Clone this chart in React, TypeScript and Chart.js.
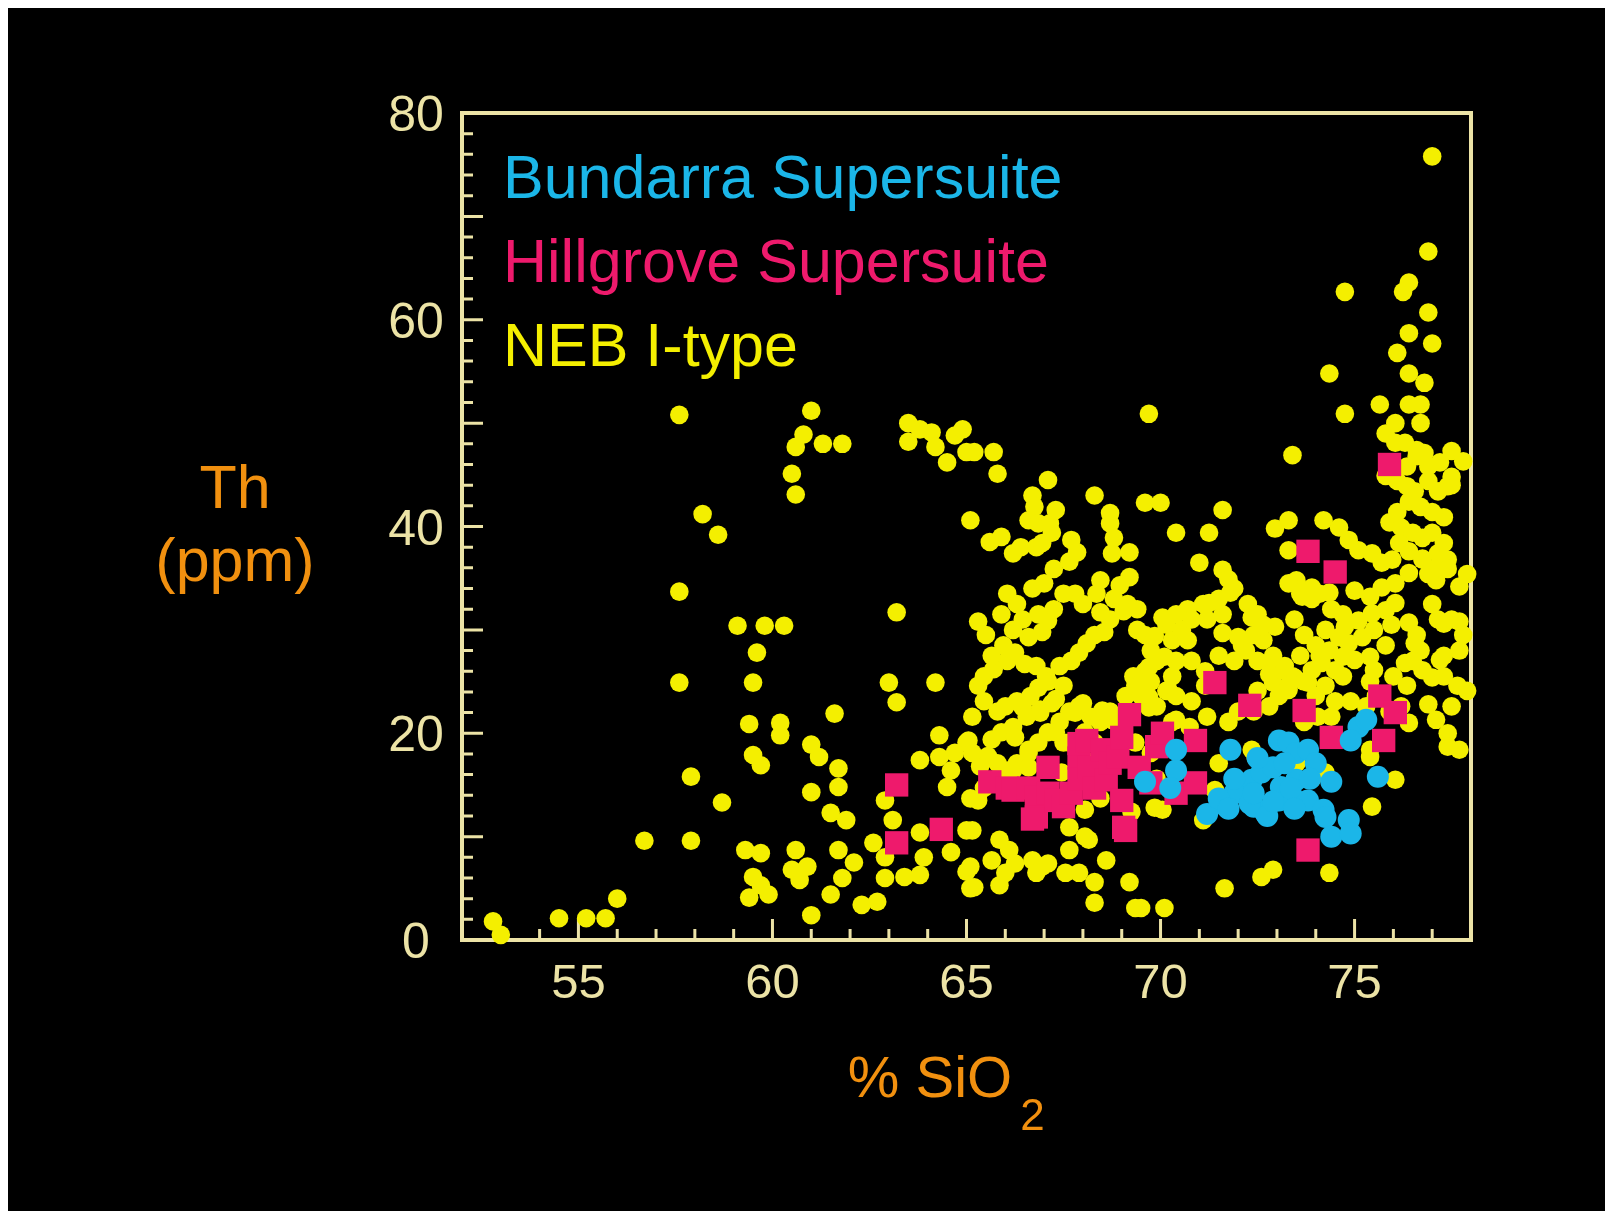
import React, { useEffect, useRef } from "react";
import { Chart, registerables } from "chart.js";

Chart.register(...registerables);

// Th (ppm) against % SiO2 for three granite groups of the New England Batholith.

const seriesNames = ["Bundarra Supersuite", "Hillgrove Supersuite", "NEB I-type"];

// [SiO2 %, Th ppm]
const bundarra: [number, number][] = [
  [69.6, 15.3], [70.4, 18.4], [70.4, 16.4], [70.25, 14.7], [71.8, 18.4], [71.7, 12.9], [71.6, 13.5],
  [72.0, 15.2], [72.35, 15.5], [72.6, 16.2], [72.9, 16.7], [73.05, 19.3], [73.3, 19.1], [73.5, 18.1],
  [73.8, 18.4], [74.0, 17.1], [72.7, 12.3], [72.4, 12.9], [73.05, 13.5], [73.4, 13.8], [73.8, 13.5],
  [74.2, 12.6], [74.25, 11.9], [71.9, 14.2], [73.1, 14.8], [73.5, 15.5], [74.4, 15.3], [74.4, 10.0],
  [74.85, 11.6], [74.9, 10.3], [75.1, 20.6], [74.9, 19.3], [75.3, 21.3], [75.6, 15.8], [71.2, 12.2],
  [72.3, 13.2], [73.35, 14.65], [72.75, 12.0], [71.9, 15.6], [72.4, 14.2], [72.9, 13.4], [73.45, 12.7],
  [73.85, 15.6], [72.5, 17.6], [73.2, 17.1], [71.5, 13.7], [71.75, 12.7],
];

const hillgrove: [number, number][] = [
  [63.2, 15.0], [63.2, 9.4], [64.35, 10.7], [65.6, 15.3], [66.05, 14.7], [66.2, 14.5], [66.6, 14.7],
  [66.8, 13.8], [66.8, 11.9], [67.1, 14.2], [67.3, 13.5], [66.7, 11.7], [67.5, 12.9], [67.7, 14.2],
  [67.9, 17.6], [67.9, 15.6], [67.9, 19.0], [67.1, 16.7], [68.1, 19.3], [68.15, 16.7], [68.3, 14.7],
  [68.5, 18.4], [68.6, 15.5], [68.7, 17.1], [68.9, 17.7], [69.0, 13.5], [69.1, 10.6], [69.0, 19.6],
  [69.05, 10.9], [69.2, 21.8], [69.45, 16.7], [69.75, 15.2], [69.9, 18.7], [70.05, 20.0], [70.4, 14.2],
  [70.9, 19.3], [70.9, 15.2], [71.4, 24.9], [72.3, 22.7], [73.8, 37.6], [74.5, 35.6], [73.7, 22.2],
  [74.4, 19.6], [73.8, 8.7], [75.65, 23.6], [76.05, 22.0], [75.75, 19.3], [75.9, 46.0],
];

const nebIType: [number, number][] = [
  // low-silica scatter
  [52.8, 1.8], [53.0, 0.5], [54.5, 2.1], [55.2, 2.1], [55.7, 2.1], [56.0, 4.0], [56.7, 9.6],
  [57.6, 50.8], [57.6, 33.7], [57.6, 24.9], [57.9, 15.8], [57.9, 9.6], [58.2, 41.2], [58.6, 39.2], [58.7, 13.3],
  [59.1, 30.4], [59.8, 30.4], [60.3, 30.4], [59.6, 27.8], [59.4, 20.9], [59.5, 17.9], [59.7, 16.9],
  [59.3, 8.7], [59.7, 8.4], [59.5, 6.1], [59.7, 5.3], [59.9, 4.4], [59.4, 4.1], [59.5, 24.9], [60.2, 21.0], [60.2, 19.8],
  [60.5, 45.1], [60.6, 43.1], [60.8, 48.9], [61.0, 51.2], [60.6, 47.7], [61.3, 48.0], [61.8, 48.0],
  [60.6, 8.7], [60.5, 6.8], [60.7, 5.8], [60.9, 7.1], [61.0, 2.4], [61.0, 18.9], [61.2, 17.7], [61.0, 14.3],
  [61.6, 21.9], [61.7, 16.6], [61.7, 14.8], [61.5, 12.3], [61.9, 11.6], [61.7, 8.7], [62.1, 7.5], [61.8, 6.0], [61.5, 4.4],
  [62.3, 3.4], [62.7, 3.7], [63.0, 24.9], [63.2, 23.0], [64.2, 24.9], [64.3, 19.8], [62.9, 13.5], [63.1, 11.6],
  [62.6, 9.4], [62.9, 8.0], [62.9, 6.0], [63.4, 6.1], [63.8, 6.3], [63.8, 10.4], [63.9, 8.0], [64.6, 8.5],
  [63.8, 17.4], [64.3, 17.7], [64.6, 16.4], [64.5, 14.8], [64.7, 18.1], [65.0, 19.1], [65.0, 10.6], [65.0, 6.6], [65.1, 5.0],
  [63.2, 31.7],
  [63.5, 50.0], [63.5, 48.2], [63.8, 49.4], [64.1, 49.1], [64.2, 47.7], [64.5, 46.2], [64.7, 48.8], [64.9, 49.4],
  [65.0, 47.2], [65.1, 40.6], [65.2, 47.2], [65.7, 47.2], [65.8, 45.1],
  // 65-70 % SiO2, upper band
  [67.1, 44.5], [66.7, 43.0], [66.75, 41.9], [66.6, 40.6], [66.85, 40.3], [67.15, 40.3], [67.3, 41.6], [67.2, 39.4],
  [65.6, 38.5], [65.9, 39.0], [66.2, 37.4], [66.4, 38.0], [66.8, 38.0], [66.95, 38.4],
  [68.3, 43.0], [68.7, 41.3], [68.7, 40.3], [67.7, 38.7], [67.85, 37.5], [68.75, 37.4], [69.2, 37.5], [69.6, 42.3], [70.0, 42.3],
  [67.25, 35.9], [67.65, 36.6], [68.8, 38.9],
  [70.4, 39.4], [71.25, 39.4], [71.6, 41.6], [71.0, 36.5], [71.6, 35.8], [72.95, 39.8], [73.3, 40.6], [73.3, 37.7],
  [74.2, 40.6], [74.6, 39.9], [74.85, 38.7], [75.1, 37.7], [75.45, 37.4], [75.7, 36.5], [75.97, 36.8],
  [73.5, 34.8], [73.65, 33.2], [73.9, 34.1], [74.35, 33.6],
  [75.0, 33.8], [75.4, 33.2], [75.7, 34.1], [76.05, 34.5], [76.4, 35.5], [76.75, 36.8], [77.1, 34.8], [77.4, 36.8],
  [75.45, 31.6], [75.8, 31.9], [76.05, 32.6], [75.1, 30.9], [74.75, 30.3], [74.6, 29.3], [74.85, 28.7], [75.2, 29.3],
  [75.5, 30.0], [74.35, 28.0], [74.7, 27.4], [75.0, 27.1], [75.4, 27.4], [75.5, 26.1], [74.5, 26.1], [74.15, 26.8],
  [73.9, 26.1], [73.8, 24.9], [73.45, 25.4], [73.1, 26.1], [72.8, 26.8], [72.9, 24.9], [73.3, 24.2],
  [76.4, 30.7], [76.7, 28.0], [77.0, 25.4], [77.2, 27.1], [77.7, 28.0], [77.7, 30.8], [77.3, 30.6], [76.55, 28.7],
  [76.75, 26.1], [76.3, 26.8], [77.5, 44.0],
  // high-silica cluster
  [74.1, 33.5], [74.4, 32.0], [74.7, 31.5], [75.95, 30.5], [76.6, 29.5], [77.15, 31.0], [74.25, 30.0], [75.8, 28.5],
  [76.5, 27.0], [77.3, 27.5], [74.1, 27.5], [74.7, 25.5], [75.4, 25.0], [76.0, 25.5], [76.35, 24.6], [77.3, 25.5],
  [77.65, 24.6], [77.9, 24.1], [74.25, 24.6], [77.0, 32.5], [77.5, 31.0], [77.8, 29.5], [77.7, 34.2], [77.9, 35.4],
  [77.4, 35.9], [77.15, 37.4], [76.9, 35.4], [74.5, 23.1], [74.9, 23.1], [75.3, 22.6], [75.55, 23.6],
  [76.4, 21.0], [77.1, 21.3], [77.4, 20.0], [77.4, 18.7], [75.4, 17.7], [76.05, 15.5], [75.45, 12.9], [77.5, 22.6],
  [76.9, 22.8], [76.2, 22.6], [75.9, 22.1], [74.4, 21.6], [74.25, 16.2], [75.4, 18.4], [77.7, 18.4],
  [75.8, 44.9], [76.1, 44.4], [76.35, 43.9], [76.55, 43.4], [76.9, 44.4], [77.15, 43.4], [76.4, 42.4], [76.7, 41.9],
  [77.0, 41.4], [77.3, 40.9], [76.1, 41.4], [75.9, 40.4], [76.2, 39.9], [76.5, 39.4], [76.75, 38.9], [77.0, 39.4],
  [77.3, 38.4], [76.15, 38.4], [76.4, 37.6], [76.75, 36.9], [77.05, 35.9], [77.4, 43.9], [77.5, 47.3], [77.8, 46.3],
  [76.6, 46.8], [76.35, 45.8], [76.9, 45.8],
  // Th-rich leucogranites
  [77.0, 75.8], [76.9, 66.6], [76.4, 63.6], [76.25, 62.7], [74.75, 62.7], [76.9, 60.7], [76.4, 58.7], [77.0, 57.7],
  [76.1, 56.8], [74.35, 54.8], [76.4, 54.8], [76.8, 53.9], [75.65, 51.8], [74.75, 50.9], [76.4, 51.8], [76.7, 51.8],
  [69.7, 50.9], [73.4, 46.9], [76.7, 50.0], [76.05, 50.0], [75.8, 49.0], [76.05, 48.1], [76.3, 48.1], [76.6, 47.4],
  [76.8, 47.1], [77.2, 46.2], [77.5, 44.8],
  // 65-70 % SiO2, middle band
  [68.8, 33.0], [69.15, 32.5], [69.4, 32.0], [69.05, 31.8], [68.95, 34.3], [69.2, 35.1], [68.45, 34.8], [68.35, 33.5],
  [68.0, 32.5], [67.8, 33.5], [67.5, 33.5], [67.25, 32.0], [67.1, 30.9], [66.85, 31.5], [66.95, 29.8], [66.6, 29.3],
  [66.25, 27.8], [66.05, 27.0], [65.7, 26.2], [66.5, 26.7], [66.8, 26.5], [67.05, 25.5], [67.4, 26.5], [67.7, 27.0],
  [67.9, 27.8], [68.1, 28.7], [68.3, 29.5], [68.55, 29.8], [68.7, 31.0], [68.45, 31.7], [69.4, 30.0], [69.6, 29.5],
  [69.75, 28.0], [69.9, 27.0], [69.6, 26.0], [69.3, 25.5], [69.1, 23.6],
  [65.3, 30.8], [65.5, 29.5], [65.65, 27.5], [65.45, 25.5], [65.9, 31.5], [66.05, 33.5], [66.3, 32.5], [66.45, 31.0],
  [66.2, 30.0], [65.95, 28.5], [66.7, 34.0], [67.0, 34.5],
  // 65-70 % SiO2, lower band
  [65.3, 24.6], [65.45, 23.1], [65.8, 22.1], [66.0, 22.6], [66.3, 23.1], [66.65, 23.6], [66.85, 24.4], [67.1, 25.0],
  [67.5, 24.6], [67.3, 23.3], [66.9, 22.3], [66.55, 21.6], [66.2, 20.6], [65.9, 20.1], [65.65, 19.4], [65.55, 17.8],
  [65.8, 17.1], [66.05, 16.4], [66.3, 17.1], [66.6, 18.1], [66.85, 19.1], [67.1, 20.1], [67.4, 21.1], [67.65, 22.1],
  [67.9, 22.6], [68.2, 21.6], [68.45, 21.1], [68.7, 22.1], [68.95, 21.6], [69.35, 24.6], [69.5, 23.6], [69.75, 25.0],
  [69.9, 22.6], [67.5, 19.1], [68.05, 20.1], [68.3, 19.1],
  [65.15, 21.6], [65.35, 16.8], [65.45, 14.7], [65.1, 13.7],
  [69.35, 19.1], [69.75, 18.1], [69.9, 15.6], [70.3, 21.1],
  [65.15, 10.6], [65.85, 9.7], [66.1, 8.7], [66.25, 7.4], [65.65, 7.7], [66.0, 6.5], [65.1, 7.1], [65.2, 5.1],
  [65.85, 5.3], [66.7, 7.7], [66.95, 7.1], [66.8, 6.5], [67.1, 7.4], [67.65, 8.7], [67.55, 6.5], [67.9, 6.5],
  [68.15, 9.7], [68.6, 7.7], [68.3, 5.6], [69.2, 5.6], [68.3, 3.6], [69.35, 3.1], [69.5, 3.1], [70.1, 3.1],
  [67.65, 10.9], [68.05, 10.0], [70.05, 12.6], [71.1, 11.6], [71.65, 5.0], [72.6, 6.1], [72.9, 6.8], [74.35, 6.5],
  [65.3, 13.5], [68.05, 12.6], [69.85, 12.8], [71.4, 14.5], [72.35, 18.4], [72.45, 17.7], [68.45, 13.7], [69.25, 12.4],
  // 70-74 % SiO2
  [71.9, 34.0], [71.5, 33.0], [71.1, 32.5], [70.7, 32.0], [70.4, 31.5], [70.15, 30.5], [70.3, 29.0], [70.55, 30.0],
  [70.8, 31.0], [71.2, 31.0], [71.6, 31.5], [72.25, 32.5], [72.5, 31.5], [72.65, 30.5], [72.4, 29.5], [72.1, 28.5],
  [71.9, 27.0], [71.5, 27.5], [71.15, 26.0], [70.8, 27.0], [70.4, 27.0], [70.3, 25.5], [73.3, 34.5], [73.6, 33.5],
  [73.9, 33.0], [73.45, 31.0], [73.7, 29.5], [74.0, 28.5], [73.6, 27.5], [73.2, 26.5], [73.4, 25.5], [72.9, 27.5],
  [72.8, 25.7], [72.5, 27.0], [72.65, 29.0], [72.95, 30.3], [71.75, 34.9],
  [70.05, 31.2], [69.85, 29.4], [70.7, 29.0], [70.1, 27.4], [69.7, 26.4], [69.5, 24.8], [70.2, 24.2], [69.7, 23.5],
  [71.25, 32.6], [71.6, 29.7], [71.8, 33.6], [72.35, 31.2], [72.6, 30.3], [72.2, 28.0], [72.0, 29.3],
  [70.15, 24.1], [70.4, 23.6], [70.8, 23.1], [71.15, 24.6], [71.2, 21.6], [71.75, 21.1], [72.0, 22.1], [72.4, 22.1],
  [72.8, 22.6], [73.05, 23.6], [73.3, 24.6], [73.7, 25.0], [74.0, 23.6], [74.05, 21.6], [73.7, 21.1], [72.5, 24.1],
  [73.5, 17.1], [73.9, 15.6], [71.5, 17.1],
  [66.45, 22.5], [66.9, 22.0], [67.2, 22.9], [67.8, 22.0], [68.0, 22.9], [68.5, 22.2], [68.75, 21.3], [69.7, 22.5],
  [70.4, 21.3], [70.75, 20.6], [65.05, 19.3], [66.25, 19.6], [66.6, 18.4], [67.3, 20.1], [65.15, 18.1], [67.65, 19.1],
  [66.2, 16.4], [66.6, 16.7], [67.45, 16.2], [68.05, 17.4],
];

// Axis ranges and tick marks
const xMin = 52;
const xMax = 78;
const yMin = 0;
const yMax = 80;
const xTickLabels = [55, 60, 65, 70, 75];
const yTickLabels = [0, 20, 40, 60, 80];
const xTickMarks = [53, 54, 55, 56, 57, 58, 59, 60, 61, 62, 63, 64, 65, 66, 67, 68, 69, 70, 71, 72, 73, 74, 75, 76, 77];
const yTickMarks = [2, 4, 6, 8, 10, 12, 14, 16, 18, 20, 22, 24, 26, 28, 30, 32, 34, 36, 38, 40, 42, 44, 46, 48, 50, 52, 54, 56, 58, 60, 62, 64, 66, 68, 70, 72, 74, 76, 78];

// Styling
const CANVAS_W = 1597;
const CANVAS_H = 1203;
const FONT = '"Liberation Sans", Arial, Helvetica, sans-serif';
const AXIS_COLOR = "#ece3a6";
const TITLE_COLOR = "#f1900f";
const CYAN = "#1bb6e8";
const MAGENTA = "#ee1a6c";
const YELLOW = "#f4ef00";
const seriesColors = [CYAN, MAGENTA, YELLOW];

const axesPlugin = {
  id: "framedAxes",
  beforeDatasetsDraw(chart: any) {
    const { ctx, chartArea: a } = chart;
    const xs = chart.scales.x;
    const ys = chart.scales.y;
    ctx.save();
    ctx.strokeStyle = AXIS_COLOR;
    ctx.lineCap = "butt";

    // inward tick marks on the bottom and left axes
    ctx.lineWidth = 3;
    ctx.beginPath();
    for (const v of xTickMarks) {
      const px = xs.getPixelForValue(v);
      const len = v % 5 === 0 ? 21 : 11;
      ctx.moveTo(px, a.bottom);
      ctx.lineTo(px, a.bottom - len);
    }
    for (const v of yTickMarks) {
      const py = ys.getPixelForValue(v);
      const len = v % 10 === 0 ? 21 : 11;
      ctx.moveTo(a.left, py);
      ctx.lineTo(a.left + len, py);
    }
    ctx.stroke();

    // frame
    ctx.lineWidth = 4;
    ctx.strokeRect(a.left, a.top, a.right - a.left, a.bottom - a.top);

    // tick labels
    ctx.fillStyle = AXIS_COLOR;
    ctx.textAlign = "center";
    ctx.textBaseline = "alphabetic";
    ctx.font = `50px ${FONT}`;
    for (const v of yTickLabels) {
      ctx.fillText(String(v), a.left - 46, ys.getPixelForValue(v) + 18);
    }
    ctx.font = `49px ${FONT}`;
    for (const v of xTickLabels) {
      ctx.fillText(String(v), xs.getPixelForValue(v), a.bottom + 58);
    }

    // y axis title, two horizontal lines
    ctx.fillStyle = TITLE_COLOR;
    ctx.font = `61px ${FONT}`;
    ctx.fillText("Th", a.left - 227, a.top + 395);
    ctx.fillText("(ppm)", a.left - 227, a.top + 468);

    // x axis title with subscript
    ctx.font = `58px ${FONT}`;
    const main = "% SiO";
    const w = ctx.measureText(main).width;
    const cx = a.left + 468;
    ctx.textAlign = "left";
    ctx.fillText(main, cx - w / 2, a.bottom + 157);
    ctx.font = `44px ${FONT}`;
    ctx.fillText("2", cx + w / 2 + 8, a.bottom + 190);
    ctx.restore();
  },
  afterDatasetsDraw(chart: any) {
    const { ctx, chartArea: a } = chart;
    ctx.save();
    ctx.font = `61px ${FONT}`;
    ctx.textAlign = "left";
    ctx.textBaseline = "alphabetic";
    seriesNames.forEach((name, i) => {
      ctx.fillStyle = seriesColors[i];
      ctx.fillText(name, a.left + 41, a.top + 84.5 + i * 84);
    });
    ctx.restore();
  },
};

const toPoints = (rows: [number, number][]) => rows.map(([x, y]) => ({ x, y }));

export default function App() {
  const canvasRef = useRef<HTMLCanvasElement | null>(null);

  useEffect(() => {
    const canvas = canvasRef.current;
    if (!canvas) return;
    const chart = new Chart(canvas, {
      type: "scatter",
      data: {
        datasets: [
          {
            label: seriesNames[0],
            data: toPoints(bundarra),
            backgroundColor: CYAN,
            borderWidth: 0,
            pointStyle: "circle",
            pointRadius: 11,
          },
          {
            label: seriesNames[1],
            data: toPoints(hillgrove),
            backgroundColor: MAGENTA,
            borderWidth: 0,
            pointStyle: "rect",
            pointRadius: 16.5,
          },
          {
            label: seriesNames[2],
            data: toPoints(nebIType),
            backgroundColor: YELLOW,
            borderWidth: 0,
            pointStyle: "circle",
            pointRadius: 9.3,
          },
        ],
      },
      options: {
        responsive: false,
        animation: false,
        events: [],
        clip: false,
        layout: { padding: { left: 454, top: 105, right: 134, bottom: 271 } },
        scales: {
          x: { type: "linear", min: xMin, max: xMax, display: false },
          y: { type: "linear", min: yMin, max: yMax, display: false },
        },
        plugins: {
          legend: { display: false },
          tooltip: { enabled: false },
        },
      },
      plugins: [axesPlugin],
    });
    return () => chart.destroy();
  }, []);

  return (
    <div
      style={{
        position: "fixed",
        left: 8,
        top: 8,
        width: CANVAS_W,
        height: CANVAS_H,
        background: "#000",
        overflow: "hidden",
      }}
    >
      <canvas ref={canvasRef} width={CANVAS_W} height={CANVAS_H} style={{ display: "block" }} />
    </div>
  );
}
